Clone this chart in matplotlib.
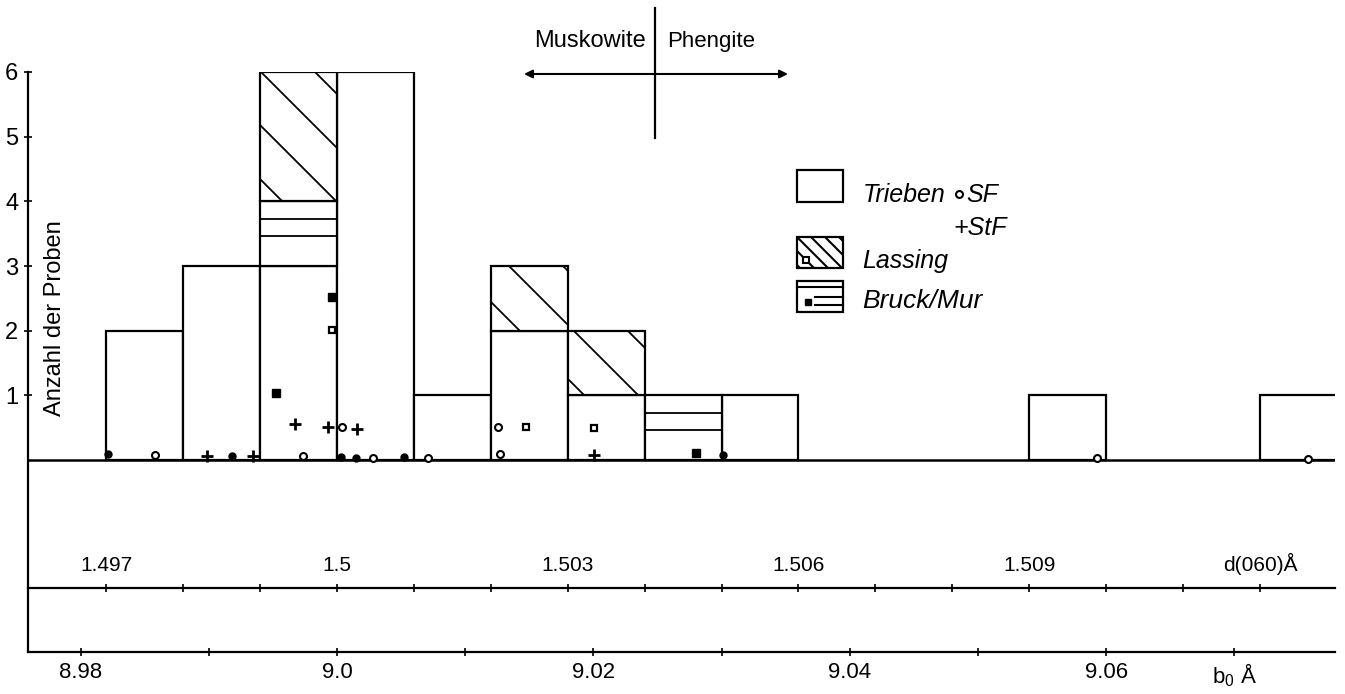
import numpy as np
import matplotlib
matplotlib.use("Agg")
import matplotlib.pyplot as plt
from matplotlib import font_manager
from matplotlib.patches import Rectangle

names = {f.name for f in font_manager.fontManager.ttflist}
font = "Liberation Sans" if "Liberation Sans" in names else "DejaVu Sans"
plt.rcParams["font.family"] = [font, "DejaVu Sans"]
plt.rcParams["mathtext.fontset"] = "custom"
plt.rcParams["mathtext.rm"] = font

# histogram: d(060) bin lower edges (bin width 0.001 A) and counts per locality
bin_d060 = [1.497, 1.498, 1.499, 1.500, 1.501, 1.502, 1.503, 1.504, 1.505, 1.509, 1.512]
trieben = [2, 3, 3, 6, 1, 2, 1, 0, 1, 1, 1]
bruck = [0, 0, 1, 0, 0, 0, 0, 1, 0, 0, 0]
lassing = [0, 0, 2, 0, 0, 1, 1, 0, 0, 0, 0]

# single samples, b0 in A and the height they are drawn at
sf_x = [8.9858, 8.99735, 9.00039, 9.00281, 9.0071, 9.01256, 9.01271, 9.05928, 9.07574]
sf_y = [0.07, 0.06, 0.51, 0.03, 0.03, 0.51, 0.09, 0.03, 0.02]
sf_dot_x = [8.98214, 8.99181, 9.00031, 9.00148, 9.00523, 9.03011]
sf_dot_y = [0.09, 0.06, 0.05, 0.03, 0.05, 0.08]
stf_x = [8.98986, 8.99345, 8.99672, 8.9993, 9.00156, 9.02005]
stf_y = [0.06, 0.06, 0.56, 0.51, 0.48, 0.08]
lassing_x = [8.99961, 9.01474, 9.02005]
lassing_y = [2.01, 0.51, 0.50]
bruck_x = [8.99524, 8.99961, 9.028]
bruck_y = [1.03, 2.52, 0.11]

# axis ticks
count_ticks = [1, 2, 3, 4, 5, 6]
b0_ticks = [8.98, 8.99, 9.00, 9.01, 9.02, 9.03, 9.04, 9.05, 9.06, 9.07]
b0_labels = ["8.98", "", "9.0", "", "9.02", "", "9.04", "", "9.06", r"b$_\mathrm{0}$ Å"]
d060_ticks = [1.497, 1.498, 1.499, 1.500, 1.501, 1.502, 1.503, 1.504,
              1.505, 1.506, 1.507, 1.508, 1.509, 1.510, 1.511, 1.512]
d060_labels = ["1.497", "", "", "1.5", "", "", "1.503", "", "", "1.506",
               "", "", "1.509", "", "", "d(060)Å"]

W, H = 1345, 694
fig = plt.figure(figsize=(W / 100, H / 100), dpi=100)
ax = fig.add_axes([28 / W, (H - 652) / H, (1335 - 28) / W, (652 - 72) / H])
ax.set_xlim(8.9759, 9.07785)
ax.set_ylim(-2.969, 6)
for s in ["top", "right"]:
    ax.spines[s].set_visible(False)
for s in ["left", "bottom"]:
    ax.spines[s].set_linewidth(1.6)


def diag_hatch(a, rect, spacing, phase, lw=1.3):
    x0, y0 = rect.get_xy()
    pts = a.transData.transform([(x0, y0), (x0 + rect.get_width(), y0 + rect.get_height())])
    X0, X1 = sorted(pts[:, 0])
    Y0, Y1 = sorted(pts[:, 1])
    cmin, cmax = X0 + Y0 - H, X1 + Y1 - H
    ks = np.arange(np.floor((cmin - phase) / spacing), np.ceil((cmax - phase) / spacing) + 1)
    inv = a.transData.inverted()
    for c in ks * spacing + phase:
        p = inv.transform([(X0, H - X0 + c), (X1, H - X1 + c)])
        ln, = a.plot(p[:, 0], p[:, 1], color="black", lw=lw, zorder=2.5)
        ln.set_clip_path(rect)


def horiz_hatch(a, rect, spacing=17, first=18, lw=1.3):
    x0, y0 = rect.get_xy()
    x1, y1 = x0 + rect.get_width(), y0 + rect.get_height()
    top = a.transData.transform((x0, y1))[1]
    bot = a.transData.transform((x0, y0))[1]
    inv = a.transData.inverted()
    for yd in np.arange(top - first, bot + 14, -spacing):
        yy = inv.transform((0, yd))[1]
        a.plot([x0, x1], [yy, yy], color="black", lw=lw, zorder=2.5)


left = np.array(bin_d060) * 6
width = 0.006
t = np.array(trieben)
b = np.array(bruck)
l = np.array(lassing)
style = dict(width=width, align="edge", facecolor="white", edgecolor="black", linewidth=1.6, zorder=2)

m = t > 0
ax.bar(left[m], t[m], **style)
m = b > 0
for rect in ax.bar(left[m], b[m], bottom=t[m], **style):
    horiz_hatch(ax, rect)
m = l > 0
for rect in ax.bar(left[m], l[m], bottom=(t + b)[m], **style):
    diag_hatch(ax, rect, 54, 27)

ax.axhline(0, color="black", lw=1.8, zorder=3)

ax.plot(sf_x, sf_y, "o", mfc="white", mec="black", ms=5, mew=1.5, zorder=4)
ax.plot(sf_dot_x, sf_dot_y, "o", color="black", ms=5, zorder=4)
ax.plot(stf_x, stf_y, "+", color="black", ms=8, mew=2, zorder=4)
ax.plot(lassing_x, lassing_y, "s", mfc="white", mec="black", ms=5, mew=1.6, zorder=4)
ax.plot(bruck_x, bruck_y, "s", color="black", ms=6, zorder=4)

ax.set_yticks(count_ticks)
ax.set_yticklabels([str(c) for c in count_ticks])
ax.tick_params(axis="y", direction="inout", length=6, width=1.2, labelsize=17, pad=4)
ax.set_xticks(b0_ticks)
ax.set_xticklabels(b0_labels)
ax.tick_params(axis="x", direction="inout", length=6, width=1.2, labelsize=16, pad=4)
ax.set_ylabel("Anzahl der Proben", fontsize=17)
ax.yaxis.set_label_coords((66 - 28) / (1335 - 28), (652 - 318) / (652 - 72))
ax.yaxis.label.set_horizontalalignment("center")

# d(060) scale
sec = ax.secondary_xaxis((652 - 588) / (652 - 72), functions=(lambda v: v / 6, lambda v: v * 6))
sec.set_alignment("top")
sec.spines["top"].set_linewidth(1.6)
sec.set_xticks(d060_ticks)
sec.set_xticklabels(d060_labels)
sec.tick_params(direction="inout", length=6, width=1.2, labelsize=15, pad=6)

# annotation layer in picture pixels
ov = fig.add_axes([0, 0, 1, 1])
ov.set_xlim(0, W)
ov.set_ylim(H, 0)
ov.axis("off")

ov.plot([655, 655], [8, 138], color="black", lw=1.6)
ov.annotate("", xy=(788, 74), xytext=(524, 74),
            arrowprops=dict(arrowstyle="<|-|>", color="black", lw=1.5,
                            mutation_scale=12, shrinkA=0, shrinkB=0))
ov.text(646, 47, "Muskowite", ha="right", va="baseline", fontsize=17)
ov.text(667, 47, "Phengite", ha="left", va="baseline", fontsize=16)

# legend
lw_box = 1.6
ov.add_patch(Rectangle((797, 170), 46, 32, fill=False, lw=lw_box))
box_l = Rectangle((797, 237), 46, 31, facecolor="white", edgecolor="black", lw=lw_box)
ov.add_patch(box_l)
diag_hatch(ov, box_l, 14, 0, lw=1.5)
ov.plot(806, 260, "s", mfc="white", mec="black", ms=5, mew=1.5, zorder=4)
ov.add_patch(Rectangle((797, 281), 46, 31, fill=False, lw=lw_box))
ov.plot([797, 843], [287, 287], color="black", lw=1.5)
ov.plot([815, 843], [297, 297], color="black", lw=1.5)
ov.plot([815, 843], [305, 305], color="black", lw=1.5)
ov.plot(808, 302, "s", color="black", ms=5)

ov.text(863, 202, "Trieben", style="italic", fontsize=18, va="baseline")
ov.plot(959, 194, "o", mfc="white", mec="black", ms=5, mew=1.5)
ov.text(966, 202, "SF", style="italic", fontsize=18, va="baseline")
ov.text(953, 235, "+StF", style="italic", fontsize=18, va="baseline")
ov.text(862, 268, "Lassing", style="italic", fontsize=18, va="baseline")
ov.text(862, 308, "Bruck/Mur", style="italic", fontsize=19, va="baseline")

fig.savefig("out.png", dpi=100)
